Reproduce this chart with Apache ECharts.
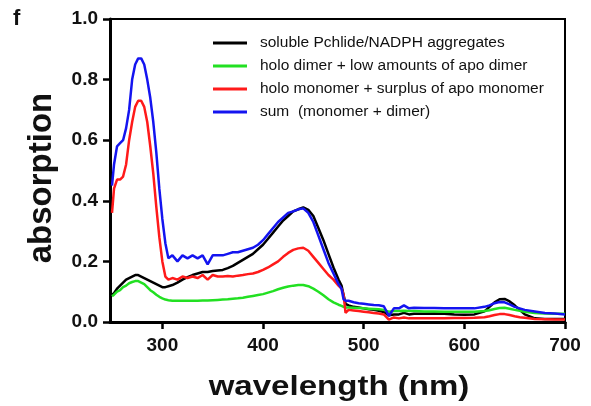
<!DOCTYPE html>
<html>
<head>
<meta charset="utf-8">
<script src="https://cdn.jsdelivr.net/npm/echarts@6/dist/echarts.min.js"></script>
<style>html,body{margin:0;padding:0;background:#fff}#c{width:591px;height:406px}</style>
</head>
<body>
<div id="c"></div>
<script>
const wavelengths = [250,252,255,258,261,264,267,270,273,276,279,282,285,288,291,294,297,300,303,306,310,315,320,325,330,335,340,345,350,355,360,365,370,375,380,385,390,395,400,405,410,415,420,425,430,435,440,445,450,455,460,465,470,475,478,480,482,485,490,495,500,505,510,515,520,525,530,535,540,545,550,560,570,580,590,600,610,620,625,630,635,640,645,650,655,660,670,680,690,700];

const aggregates = [0.09,0.095,0.11,0.12,0.13,0.14,0.145,0.15,0.155,0.155,0.15,0.145,0.14,0.135,0.13,0.125,0.12,0.115,0.115,0.118,0.122,0.13,0.14,0.148,0.155,0.16,0.165,0.165,0.168,0.17,0.172,0.178,0.185,0.195,0.205,0.215,0.225,0.24,0.255,0.275,0.295,0.315,0.335,0.35,0.365,0.372,0.378,0.37,0.35,0.31,0.27,0.225,0.18,0.14,0.12,0.09,0.06,0.055,0.05,0.048,0.045,0.042,0.04,0.037,0.033,0.022,0.025,0.025,0.03,0.025,0.027,0.027,0.028,0.027,0.025,0.024,0.025,0.035,0.05,0.065,0.075,0.076,0.068,0.055,0.04,0.025,0.012,0.01,0.01,0.01];

const holoDimer = [0.085,0.09,0.1,0.105,0.115,0.12,0.128,0.132,0.135,0.135,0.13,0.125,0.115,0.105,0.098,0.09,0.083,0.078,0.074,0.072,0.07,0.07,0.07,0.07,0.07,0.07,0.071,0.071,0.072,0.073,0.074,0.075,0.077,0.078,0.08,0.083,0.086,0.089,0.092,0.097,0.102,0.108,0.113,0.117,0.12,0.122,0.122,0.118,0.11,0.1,0.088,0.075,0.065,0.057,0.053,0.05,0.048,0.048,0.047,0.046,0.045,0.044,0.043,0.042,0.04,0.034,0.036,0.036,0.037,0.036,0.036,0.035,0.035,0.034,0.034,0.034,0.034,0.036,0.039,0.043,0.046,0.047,0.044,0.04,0.037,0.034,0.03,0.028,0.027,0.027];

const holoMonomer = [0.36,0.44,0.47,0.47,0.48,0.52,0.6,0.66,0.71,0.73,0.73,0.71,0.66,0.58,0.49,0.38,0.28,0.2,0.15,0.14,0.145,0.14,0.15,0.145,0.15,0.145,0.155,0.14,0.155,0.15,0.15,0.152,0.15,0.153,0.155,0.158,0.16,0.165,0.172,0.18,0.19,0.2,0.215,0.228,0.238,0.243,0.245,0.235,0.215,0.195,0.175,0.155,0.14,0.12,0.11,0.09,0.03,0.04,0.038,0.036,0.034,0.032,0.03,0.028,0.025,0.008,0.015,0.012,0.015,0.012,0.012,0.012,0.012,0.012,0.013,0.013,0.014,0.016,0.019,0.023,0.026,0.026,0.023,0.019,0.016,0.014,0.01,0.009,0.008,0.008];

const sumSeries = [0.45,0.52,0.58,0.59,0.6,0.64,0.7,0.8,0.85,0.87,0.87,0.85,0.8,0.74,0.66,0.56,0.44,0.34,0.26,0.21,0.22,0.2,0.22,0.21,0.22,0.21,0.22,0.19,0.22,0.22,0.22,0.225,0.23,0.23,0.235,0.24,0.245,0.255,0.27,0.29,0.31,0.33,0.345,0.36,0.365,0.372,0.375,0.36,0.33,0.285,0.24,0.195,0.16,0.125,0.11,0.075,0.07,0.07,0.065,0.062,0.06,0.058,0.056,0.055,0.052,0.02,0.045,0.045,0.055,0.045,0.047,0.046,0.046,0.045,0.045,0.045,0.045,0.05,0.055,0.062,0.066,0.065,0.058,0.05,0.045,0.04,0.035,0.03,0.028,0.025];

const seriesNames = ['soluble Pchlide/NADPH aggregates','holo dimer + low amounts of apo dimer','holo monomer + surplus of apo monomer','sum  (monomer + dimer)'];
const seriesColors = ['#000000','#22e022','#ff1a1a','#1414f0'];
const xTicks = [300,400,500,600,700];
const yTicks = [0,0.2,0.4,0.6,0.8,1.0];

const allValues = [aggregates, holoDimer, holoMonomer, sumSeries];
const pairs = v => wavelengths.map((w,i)=>[w, v[i]]);

const chart = echarts.init(document.getElementById('c'), null, {renderer:'canvas'});
const font = 'Liberation Sans, Arial, Helvetica, sans-serif';
chart.setOption({
  animation:false,
  backgroundColor:'#fff',
  grid:{left:110,right:26,top:19,bottom:84,show:true,borderColor:'#000',borderWidth:2,backgroundColor:'transparent'},
  legend:{
    orient:'vertical', left:208, top:30, itemWidth:34, itemHeight:3, itemGap:7,
    icon:'rect',
    data:seriesNames,
    textStyle:{fontFamily:font,fontSize:15.5,color:'#111',padding:[0,0,0,8],lineHeight:16}
  },
  xAxis:{
    type:'value', min:248, max:700,
    splitLine:{show:false},
    axisLine:{lineStyle:{color:'#000',width:3}},
    axisTick:{customValues:xTicks,length:7,lineStyle:{color:'#000',width:2.5}},
    axisLabel:{customValues:xTicks,margin:14,fontFamily:font,fontSize:19,fontWeight:'bold',color:'#111'}
  },
  yAxis:{
    type:'value', min:0, max:1.0, interval:0.2,
    splitLine:{show:false},
    axisLine:{show:true,lineStyle:{color:'#000',width:3}},
    axisTick:{show:true,customValues:yTicks,length:7,lineStyle:{color:'#000',width:2.5}},
    axisLabel:{customValues:yTicks,margin:12,fontFamily:font,fontSize:19,fontWeight:'bold',color:'#111',formatter:v=>v.toFixed(1)}
  },
  graphic:[
    {type:'text',x:13,y:8,style:{text:'f',font:'bold 22px '+font,fill:'#111'}},
    {type:'text',x:42,y:178,rotation:Math.PI/2,style:{text:'absorption',font:'bold 33px '+font,fill:'#111',textAlign:'center',textVerticalAlign:'middle'}},
    {type:'text',x:339,y:387,scaleX:1.18,style:{text:'wavelength (nm)',font:'bold 28px '+font,fill:'#111',textAlign:'center',textVerticalAlign:'middle'}}
  ],
  series: seriesNames.map((n,i)=>({
    name:n, type:'line', data:pairs(allValues[i]), showSymbol:false, symbol:'none',
    lineStyle:{color:seriesColors[i],width:2.5}, itemStyle:{color:seriesColors[i]}, z:2+i
  }))
});
</script>
</body>
</html>
